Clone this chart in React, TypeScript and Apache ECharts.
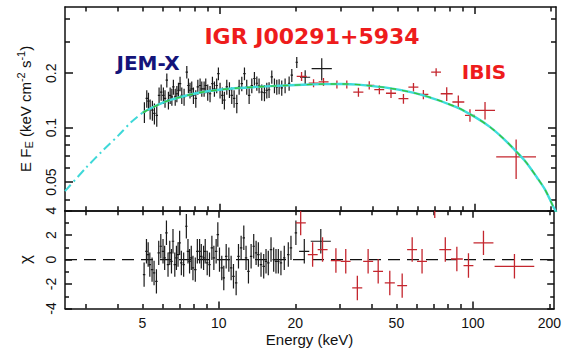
import React, { useEffect, useRef } from 'react';
import * as echarts from 'echarts';

// ---- axis ranges / ticks ----
const ENERGY_MIN = 2.48;
const ENERGY_MAX = 209;
const FLUX_MIN = 0.0347;
const FLUX_MAX = 0.465;
const CHI_MIN = -4;
const CHI_MAX = 4;

const ENERGY_TICK_LABELS = [5, 10, 20, 50, 100, 200];
const ENERGY_MAJOR_TICKS = [10, 100];
const ENERGY_MINOR_TICKS = [3, 4, 5, 6, 7, 8, 9, 20, 30, 40, 50, 60, 70, 80, 90, 200];
const FLUX_TICK_LABELS = [0.05, 0.1, 0.2];
const FLUX_MINOR_TICKS = [0.04, 0.06, 0.07, 0.08, 0.09, 0.3, 0.4];
const CHI_TICK_LABELS = [-4, -2, 0, 2, 4];
const CHI_MINOR_TICKS = [-3, -1, 1, 3];

// ---- model curve ----
const MODEL_ENERGY = [2.48, 3, 3.5, 4, 4.5, 5, 5.5, 6.3, 7.5, 8.5, 10, 11.5, 14, 18, 25, 30, 35, 47, 63, 85, 100, 115, 130, 147, 160, 176, 190, 204, 212];
const MODEL_FLUX = [0.0445, 0.06, 0.075, 0.09, 0.107, 0.121, 0.13, 0.141, 0.151, 0.157, 0.162, 0.165, 0.168, 0.171, 0.174, 0.1745, 0.173, 0.165, 0.151, 0.13, 0.115, 0.101, 0.087, 0.073, 0.064, 0.053, 0.045, 0.0365, 0.033];
const JEMX_MODEL_SPLIT = 5;

// ---- JEM-X data ----
const JEMX_ENERGY = [5.08, 5.19, 5.27, 5.35, 5.46, 5.56, 5.68, 5.80, 5.91, 6.03, 6.12, 6.22, 6.31, 6.41, 6.51, 6.60, 6.71, 6.81, 6.91, 7.01, 7.12, 7.27, 7.45, 7.56, 7.67, 7.79, 7.91, 8.08, 8.23, 8.40, 8.53, 8.71, 8.84, 9.00, 9.19, 9.39, 9.56, 9.76, 9.91, 10.06, 10.27, 10.46, 10.69, 10.95, 11.18, 11.42, 11.70, 11.95, 12.24, 12.54, 12.80, 13.08, 13.40, 13.72, 14.02, 14.31, 14.66, 15.02, 15.34, 15.66, 16.05, 16.44, 16.79, 17.15, 17.56, 18.10, 18.77, 19.23, 20.11];
const JEMX_FLUX = [0.122, 0.145, 0.140, 0.127, 0.125, 0.120, 0.117, 0.151, 0.157, 0.151, 0.145, 0.183, 0.142, 0.151, 0.148, 0.168, 0.148, 0.154, 0.161, 0.175, 0.151, 0.148, 0.203, 0.171, 0.161, 0.164, 0.151, 0.145, 0.168, 0.171, 0.164, 0.164, 0.171, 0.157, 0.154, 0.175, 0.164, 0.171, 0.199, 0.161, 0.151, 0.142, 0.168, 0.162, 0.151, 0.145, 0.136, 0.168, 0.175, 0.199, 0.168, 0.151, 0.171, 0.187, 0.176, 0.171, 0.157, 0.156, 0.161, 0.162, 0.191, 0.171, 0.168, 0.169, 0.166, 0.171, 0.176, 0.195, 0.230];
const JEMX_CHI = [-1.23, 0.68, 0.41, -0.41, -0.82, -1.09, -1.78, 0.55, 1.09, 0.68, 0.14, 2.19, -0.41, 0.55, -0.14, 1.5, -0.41, 0.14, 0.41, 1.37, -0.27, -0.41, 2.73, 0.68, -0.14, 0.14, -0.68, -0.82, 0.68, 0.68, 0.27, 0.14, 0.68, -0.27, -0.41, 0.96, 0.14, 0.68, 2.05, 0, -0.68, -1.5, 0.27, 0, -0.68, -1.37, -1.91, 0.27, 0.96, 1.78, 0.14, -0.96, 0.27, 1.09, 0.55, 0.41, -0.41, -0.55, -0.14, -0.27, 0.82, 0, -0.14, -0.14, -0.27, 0.14, 0.41, 0.96, 2.19];
const JEMX_FLUX_ERR = 0.016;
const JEMX_BIN_HALF_FRAC = 0.011;

// two wide JEM-X bins above 20 keV
const JEMX_WIDE_ENERGY = [21.7, 25.2];
const JEMX_WIDE_ENERGY_LO = [20.7, 23.0];
const JEMX_WIDE_ENERGY_HI = [22.7, 27.6];
const JEMX_WIDE_FLUX = [0.190, 0.212];
const JEMX_WIDE_FLUX_ERR = [0.018, 0.030];
const JEMX_WIDE_CHI = [0.68, 1.5];

// ---- IBIS data ----
const IBIS_ENERGY = [21.0, 23.4, 25.6, 28.9, 31.6, 35.1, 38.7, 42.4, 47.1, 52.7, 57.7, 63.1, 70.8, 77.9, 86.5, 96.1, 110.1, 145.8];
const IBIS_ENERGY_LO = [20.1, 22.4, 24.5, 27.6, 30.2, 33.5, 37.0, 40.5, 45.0, 50.4, 55.1, 60.3, 67.7, 73.8, 82.0, 91.9, 100.6, 121.8];
const IBIS_ENERGY_HI = [22.0, 24.5, 26.8, 30.2, 33.0, 36.7, 40.5, 44.3, 49.3, 55.1, 60.3, 66.0, 74.0, 82.2, 91.3, 100.5, 120.5, 174.5];
const IBIS_FLUX = [0.192, 0.1765, 0.179, 0.1735, 0.1735, 0.1573, 0.1713, 0.1621, 0.155, 0.1446, 0.1676, 0.1527, 0.2028, 0.154, 0.1386, 0.117, 0.1247, 0.0689];
const IBIS_FLUX_ERR = [0.011, 0.009, 0.009, 0.009, 0.009, 0.009, 0.009, 0.009, 0.009, 0.009, 0.009, 0.009, 0.0105, 0.0135, 0.012, 0.0093, 0.0137, 0.017];
const IBIS_CHI = [3.0, 0.41, 0.82, -0.08, -0.14, -2.32, -0.14, -0.96, -1.91, -2.13, 0.82, -0.14, 4.4, 0.82, 0.05, -0.49, 1.37, -0.55];
const CHI_ERR = 1;

const lg = Math.log10;
const FONT = '"Liberation Sans", Arial, Helvetica, sans-serif';
const INK = '#111111';
const BLACK_PTS = '#1a1a1a';
const RED_PTS = '#c4262e';

function fmtNum(v: number) {
  const e = Math.pow(10, v);
  if (e >= 1) return String(Math.round(e));
  return String(Math.round(e * 1000) / 1000);
}

const hiddenLine = { show: false, onZero: false };
const shownLine = { show: true, onZero: false, lineStyle: { color: INK, width: 1.5 } };

function xAxesFor(gridIndex: number, withLabels: boolean) {
  const base: any = {
    type: 'value', gridIndex, min: lg(ENERGY_MIN), max: lg(ENERGY_MAX),
    splitLine: { show: false }, axisLabel: { show: false }, axisLine: shownLine,
  };
  const major = { show: true, inside: true, length: 7, lineStyle: { color: INK, width: 1.5 }, customValues: ENERGY_MAJOR_TICKS.map(lg) };
  const minor = { show: true, inside: true, length: 4.5, lineStyle: { color: INK, width: 1.5 }, customValues: ENERGY_MINOR_TICKS.map(lg) };
  const bottomMain: any = { ...base, position: 'bottom', axisTick: major };
  if (withLabels) {
    bottomMain.axisLabel = {
      show: true, customValues: ENERGY_TICK_LABELS.map(lg), formatter: (v: number) => fmtNum(v),
      margin: 7, fontSize: 14, color: INK, fontFamily: FONT,
    };
    bottomMain.name = 'Energy (keV)';
    bottomMain.nameLocation = 'middle';
    bottomMain.nameGap = 23;
    bottomMain.nameTextStyle = { fontSize: 15, color: INK, fontFamily: FONT };
  }
  return [
    bottomMain,
    { ...base, position: 'bottom', axisLine: hiddenLine, axisTick: minor },
    { ...base, position: 'top', axisTick: major },
    { ...base, position: 'top', axisLine: hiddenLine, axisTick: minor },
  ];
}

function yAxesFor(gridIndex: number, min: number, max: number, labels: number[], minors: number[], fmt: (v: number) => string, name: string, nameStyle: any, nameGap: number, majorLen: number, minorLen: number) {
  const base: any = {
    type: 'value', gridIndex, min, max,
    splitLine: { show: false }, axisLabel: { show: false }, axisLine: shownLine,
  };
  const major = { show: true, inside: true, length: majorLen, lineStyle: { color: INK, width: 1.5 }, customValues: labels };
  const minor = { show: true, inside: true, length: minorLen, lineStyle: { color: INK, width: 1.5 }, customValues: minors };
  return [
    {
      ...base, position: 'left', axisTick: major,
      axisLabel: { show: true, customValues: labels, formatter: fmt, rotate: 90, margin: 7, fontSize: 14, color: INK, fontFamily: FONT },
      name, nameLocation: 'middle', nameRotate: 90, nameGap, nameTextStyle: nameStyle,
    },
    { ...base, position: 'left', axisLine: hiddenLine, axisTick: minor },
    { ...base, position: 'right', axisTick: major },
    { ...base, position: 'right', axisLine: hiddenLine, axisTick: minor },
  ];
}

function crossRenderer(color: string, lw: number) {
  return (_params: any, api: any) => {
    const x = api.value(0), xl = api.value(1), xh = api.value(2);
    const y = api.value(3), yl = api.value(4), yh = api.value(5);
    const c = api.coord([x, y]);
    const a = api.coord([xl, y]);
    const b = api.coord([xh, y]);
    const d = api.coord([x, yl]);
    const e = api.coord([x, yh]);
    const style = { stroke: color, lineWidth: lw };
    return {
      type: 'group',
      children: [
        { type: 'line', shape: { x1: a[0], y1: c[1], x2: b[0], y2: c[1] }, style },
        { type: 'line', shape: { x1: c[0], y1: d[1], x2: c[0], y2: e[1] }, style },
      ],
    };
  };
}

function crossSeries(name: string, rows: number[][], xAxisIndex: number, yAxisIndex: number, color: string, lw: number) {
  return {
    type: 'custom', name, xAxisIndex, yAxisIndex, clip: true, z: 3,
    dimensions: ['x', 'xl', 'xh', 'y', 'yl', 'yh'],
    encode: { x: 0, y: 3 },
    renderItem: crossRenderer(color, lw),
    data: rows,
    silent: true,
  };
}

export default function App() {
  const ref = useRef<HTMLDivElement>(null);
  useEffect(() => {
    if (!ref.current) return;
    const chart = echarts.init(ref.current, undefined, { renderer: 'svg' });

    const jemxFluxRows = JEMX_ENERGY.map((e, i) => [lg(e), lg(e * (1 - JEMX_BIN_HALF_FRAC)), lg(e * (1 + JEMX_BIN_HALF_FRAC)), lg(JEMX_FLUX[i]), lg(JEMX_FLUX[i] - JEMX_FLUX_ERR), lg(JEMX_FLUX[i] + JEMX_FLUX_ERR)]);
    const jemxChiRows = JEMX_ENERGY.map((e, i) => [lg(e), lg(e * (1 - JEMX_BIN_HALF_FRAC)), lg(e * (1 + JEMX_BIN_HALF_FRAC)), JEMX_CHI[i], JEMX_CHI[i] - CHI_ERR, JEMX_CHI[i] + CHI_ERR]);
    const jemxWideFluxRows = JEMX_WIDE_ENERGY.map((e, i) => [lg(e), lg(JEMX_WIDE_ENERGY_LO[i]), lg(JEMX_WIDE_ENERGY_HI[i]), lg(JEMX_WIDE_FLUX[i]), lg(JEMX_WIDE_FLUX[i] - JEMX_WIDE_FLUX_ERR[i]), lg(JEMX_WIDE_FLUX[i] + JEMX_WIDE_FLUX_ERR[i])]);
    const jemxWideChiRows = JEMX_WIDE_ENERGY.map((e, i) => [lg(e), lg(JEMX_WIDE_ENERGY_LO[i]), lg(JEMX_WIDE_ENERGY_HI[i]), JEMX_WIDE_CHI[i], JEMX_WIDE_CHI[i] - CHI_ERR, JEMX_WIDE_CHI[i] + CHI_ERR]);
    const ibisFluxRows = IBIS_ENERGY.map((e, i) => [lg(e), lg(IBIS_ENERGY_LO[i]), lg(IBIS_ENERGY_HI[i]), lg(IBIS_FLUX[i]), lg(IBIS_FLUX[i] - IBIS_FLUX_ERR[i]), lg(IBIS_FLUX[i] + IBIS_FLUX_ERR[i])]);
    const ibisChiRows = IBIS_ENERGY.map((e, i) => [lg(e), lg(IBIS_ENERGY_LO[i]), lg(IBIS_ENERGY_HI[i]), IBIS_CHI[i], IBIS_CHI[i] - CHI_ERR, IBIS_CHI[i] + CHI_ERR]);

    const modelLow = MODEL_ENERGY.map((e, i) => [e, MODEL_FLUX[i]]).filter(p => p[0] <= JEMX_MODEL_SPLIT).map(p => [lg(p[0]), lg(p[1])]);
    const modelHigh = MODEL_ENERGY.map((e, i) => [e, MODEL_FLUX[i]]).filter(p => p[0] >= JEMX_MODEL_SPLIT).map(p => [lg(p[0]), lg(p[1])]);

    const xAxis = [...xAxesFor(0, false), ...xAxesFor(1, true)];
    const yAxis = [
      ...yAxesFor(0, lg(FLUX_MIN), lg(FLUX_MAX), FLUX_TICK_LABELS.map(lg), FLUX_MINOR_TICKS.map(lg), fmtNum,
        'E F{sub|E} (keV cm{sup|-2} s{sup|-1})',
        { fontSize: 15, color: INK, fontFamily: FONT, rich: { sub: { fontSize: 11, color: INK, fontFamily: FONT, padding: [8, 0, 0, 0] }, sup: { fontSize: 11, color: INK, fontFamily: FONT, padding: [0, 0, 9, 0] } } },
        30, 8, 5),
      ...yAxesFor(1, CHI_MIN, CHI_MAX, CHI_TICK_LABELS, CHI_MINOR_TICKS, (v: number) => String(v), 'χ',
        { fontSize: 17, color: INK, fontFamily: FONT }, 31, 7, 4),
    ];

    chart.setOption({
      animation: false,
      backgroundColor: '#ffffff',
      textStyle: { fontFamily: FONT },
      grid: [
        { left: 65, right: 8, top: 7, height: 203.7 },
        { left: 65, right: 8, top: 210.7, height: 97.8 },
      ],
      xAxis,
      yAxis,
      series: [
        crossSeries('JEM-X', jemxFluxRows, 0, 0, BLACK_PTS, 1.2),
        crossSeries('JEM-X wide', jemxWideFluxRows, 0, 0, BLACK_PTS, 1.2),
        crossSeries('IBIS', ibisFluxRows, 0, 0, RED_PTS, 1.3),
        {
          type: 'line', name: 'model (JEM-X range extension)', xAxisIndex: 0, yAxisIndex: 0, data: modelLow,
          showSymbol: false, smooth: 0.3, z: 5, silent: true,
          lineStyle: { color: '#3fd8d8', width: 2, type: [9, 4, 2, 4] },
        },
        {
          type: 'line', name: 'model', xAxisIndex: 0, yAxisIndex: 0, data: modelHigh,
          showSymbol: false, smooth: 0.3, z: 5, silent: true,
          lineStyle: { color: '#3fdcdc', width: 2.4 },
        },
        {
          type: 'line', name: 'model IBIS', xAxisIndex: 0, yAxisIndex: 0, data: modelHigh,
          showSymbol: false, smooth: 0.3, z: 6, silent: true,
          lineStyle: { color: '#3cc43c', width: 1.4, type: [6, 6] },
        },
        {
          type: 'line', name: 'zero', xAxisIndex: 4, yAxisIndex: 4,
          data: [[lg(ENERGY_MIN), 0], [lg(ENERGY_MAX), 0]],
          showSymbol: false, z: 2, silent: true,
          lineStyle: { color: INK, width: 1.3, type: [12, 7] },
        },
        crossSeries('JEM-X chi', jemxChiRows, 4, 4, BLACK_PTS, 1.2),
        crossSeries('JEM-X wide chi', jemxWideChiRows, 4, 4, BLACK_PTS, 1.2),
        crossSeries('IBIS chi', ibisChiRows, 4, 4, RED_PTS, 1.3),
      ],
      graphic: [
        { type: 'text', x: 312, y: 36, style: { text: 'IGR J00291+5934', fill: '#ee1c1c', font: 'bold 22px "DejaVu Sans", sans-serif', textAlign: 'center', textVerticalAlign: 'middle' } },
        { type: 'text', x: 148, y: 63, style: { text: 'JEM-X', fill: '#14147a', font: 'bold 20px "DejaVu Sans", sans-serif', textAlign: 'center', textVerticalAlign: 'middle' } },
        { type: 'text', x: 484, y: 71.5, style: { text: 'IBIS', fill: '#ee1c1c', font: 'bold 20px "DejaVu Sans", sans-serif', textAlign: 'center', textVerticalAlign: 'middle' } },
      ],
    });
    return () => chart.dispose();
  }, []);
  return <div ref={ref} style={{ position: 'fixed', left: 0, top: 0, width: 564, height: 349, background: '#fff' }} />;
}
